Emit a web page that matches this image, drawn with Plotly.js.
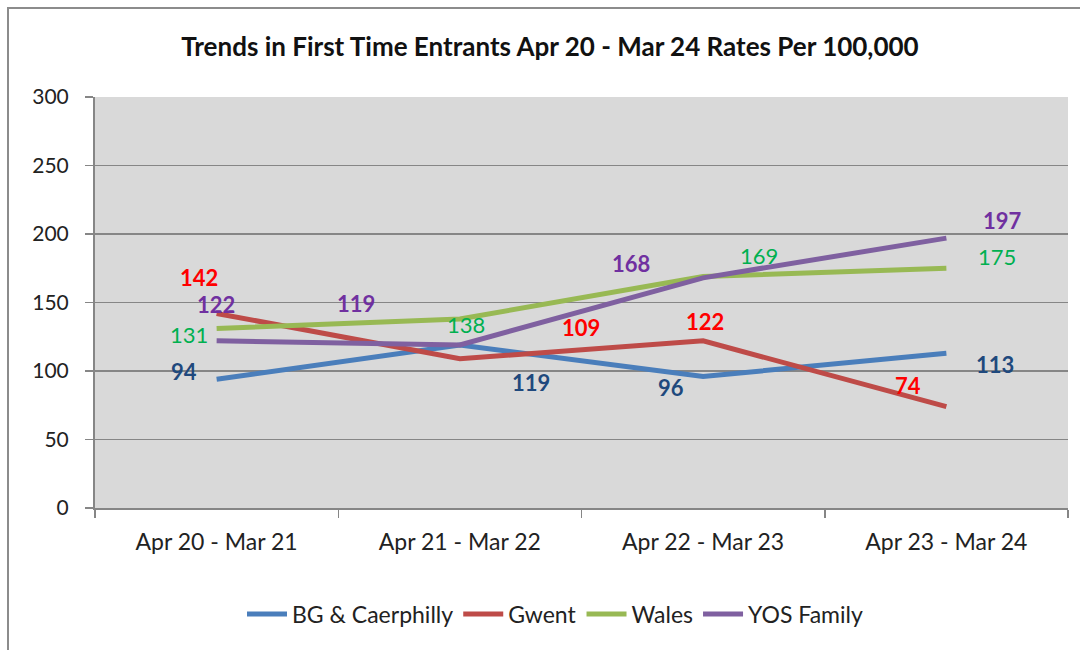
<!DOCTYPE html>
<html>
<head>
<meta charset="utf-8">
<script src="https://cdn.plot.ly/plotly-3.0.1.min.js"></script>
<style>
  html, body { margin: 0; padding: 0; background: #ffffff; }
  #chart { width: 1080px; height: 650px; }
</style>
</head>
<body>
<div id="chart"></div>
<script>
// ---- Data ----
const categories = ["Apr 20 - Mar 21", "Apr 21 - Mar 22", "Apr 22 - Mar 23", "Apr 23 - Mar 24"];
const seriesNames = ["BG & Caerphilly", "Gwent", "Wales", "YOS Family"];
const bgCaerphilly = [94, 119, 96, 113];
const gwent = [142, 109, 122, 74];
const wales = [131, 138, 169, 175];
const yosFamily = [122, 119, 168, 197];
const yTicks = [0, 50, 100, 150, 200, 250, 300];

// ---- Styles ----
const FONT = "Lato, 'Open Sans', sans-serif";
const lineColors = ["#4A7EBB", "#BE4B48", "#98B954", "#7F60A0"];
const labelColors = ["#1F497D", "#FF0000", "#00B050", "#7030A0"];
const labelBold = [true, true, false, true];
// label offsets in pixels (dx, dy up)
const labelOffsets = [
  [[-33, 8], [71, -38], [-32, -11], [49, -11]],
  [[-18, 36], [121, 31], [2, 19], [-38, 21]],
  [[-28, -6], [6, -6], [56, 21], [51, 12]],
  [[-1, 36], [-104, 41], [-72, 14], [56, 18]]
];

const allSeries = [bgCaerphilly, gwent, wales, yosFamily];

const traces = allSeries.map((vals, i) => ({
  type: "scatter",
  mode: "lines",
  name: seriesNames[i],
  x: categories,
  y: vals,
  line: { color: lineColors[i], width: 5 },
  hoverinfo: "skip"
}));

const annotations = [];
allSeries.forEach((vals, i) => {
  vals.forEach((v, j) => {
    annotations.push({
      x: categories[j], y: v, xref: "x", yref: "y",
      text: labelBold[i] ? "<b>" + v + "</b>" : String(v),
      showarrow: false,
      xshift: labelOffsets[i][j][0],
      yshift: labelOffsets[i][j][1],
      font: { family: FONT, size: 22, color: labelColors[i] }
    });
  });
});

const plotW = 1080 - 95 - 12;
const plotH = 650 - 97 - 142;

const layout = {
  width: 1080, height: 650,
  margin: { l: 95, r: 12, t: 97, b: 142 },
  paper_bgcolor: "#ffffff",
  plot_bgcolor: "#D9D9D9",
  font: { family: FONT, size: 20, color: "#222222" },
  title: {
    text: "<b>Trends in First Time Entrants Apr 20 - Mar 24 Rates Per 100,000</b>",
    font: { family: FONT, size: 26, color: "#111111" },
    x: 550 / 1080, xref: "container", xanchor: "center",
    y: 1 - 47 / 650, yref: "container", yanchor: "middle"
  },
  xaxis: {
    type: "category",
    range: [-0.5, 3.5],
    tickson: "boundaries",
    ticks: "outside", ticklen: 8, tickwidth: 1.5, tickcolor: "#868686",
    showline: true, linecolor: "#868686", linewidth: 2,
    showgrid: false, zeroline: false,
    tickfont: { family: FONT, size: 23, color: "#222222" },
    ticklabelstandoff: 12,
    fixedrange: true
  },
  yaxis: {
    range: [0, 300],
    tickvals: yTicks,
    ticks: "outside", ticklen: 8, tickwidth: 1.5, tickcolor: "#868686",
    showline: true, linecolor: "#868686", linewidth: 2,
    showgrid: true, gridcolor: "#868686", gridwidth: 1.5,
    zeroline: false,
    tickfont: { family: FONT, size: 21, color: "#222222" },
    ticklabelstandoff: 12,
    fixedrange: true
  },
  showlegend: true,
  legend: {
    orientation: "h",
    x: (555 - 95) / plotW, xanchor: "center",
    y: (508 - 614) / plotH, yanchor: "middle",
    font: { family: FONT, size: 23, color: "#222222" },
    itemwidth: 40,
    tracegroupgap: 0
  },
  annotations: annotations,
  shapes: [{
    type: "rect", xref: "paper", yref: "paper", layer: "below",
    x0: (8 - 95) / plotW, x1: (1100 - 95) / plotW,
    y0: (508 - 680) / plotH, y1: (508 - 8) / plotH,
    line: { color: "#8C8C8C", width: 2 }, fillcolor: "rgba(0,0,0,0)"
  }]
};

Plotly.newPlot("chart", traces, layout, { displayModeBar: false, staticPlot: true });
</script>
</body>
</html>
